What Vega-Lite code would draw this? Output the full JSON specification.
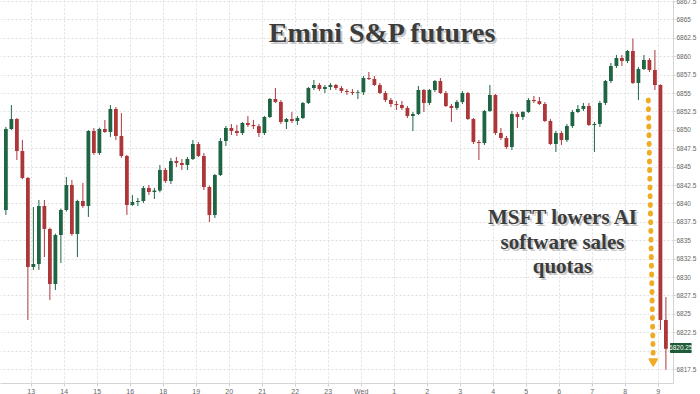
{
  "$schema": "https://vega.github.io/schema/vega-lite/v6.json",
  "width": 673,
  "height": 383,
  "autosize": {"type": "none"},
  "padding": {"left": 0, "top": 0, "right": 27, "bottom": 11},
  "background": "white",
  "config": {
    "view": {"stroke": null},
    "axis": {"title": null}
  },
  "datasets": {
    "candles": [
      {"t":-45,"o":6839.11,"h":6850.4,"l":6838.43,"c":6850.11},
      {"t":-35,"o":6850.11,"h":6853.37,"l":6849.98,"c":6851.47},
      {"t":-25,"o":6851.47,"h":6851.6,"l":6845.9,"c":6847.12},
      {"t":-15,"o":6847.12,"h":6848.62,"l":6843.3,"c":6843.46},
      {"t":-5,"o":6843.46,"h":6843.6,"l":6824.16,"c":6831.36},
      {"t":5,"o":6831.36,"h":6839.51,"l":6830.96,"c":6831.77},
      {"t":15,"o":6831.77,"h":6840.47,"l":6830.96,"c":6839.65},
      {"t":25,"o":6839.65,"h":6840.47,"l":6832.72,"c":6836.53},
      {"t":35,"o":6836.53,"h":6836.7,"l":6826.88,"c":6829.05},
      {"t":45,"o":6829.05,"h":6835.9,"l":6828.24,"c":6835.71},
      {"t":55,"o":6835.71,"h":6839.3,"l":6831.91,"c":6839.11},
      {"t":65,"o":6839.11,"h":6843.6,"l":6838.9,"c":6842.5},
      {"t":75,"o":6842.5,"h":6843.19,"l":6835.6,"c":6835.85},
      {"t":85,"o":6835.85,"h":6840.5,"l":6832.72,"c":6840.33},
      {"t":95,"o":6840.33,"h":6842.78,"l":6839.4,"c":6839.65},
      {"t":105,"o":6839.65,"h":6849.98,"l":6838.16,"c":6849.84},
      {"t":115,"o":6849.84,"h":6850.25,"l":6846.6,"c":6846.85},
      {"t":125,"o":6846.85,"h":6850.3,"l":6846.58,"c":6850.11},
      {"t":135,"o":6850.11,"h":6851.34,"l":6849.57,"c":6849.71},
      {"t":145,"o":6849.71,"h":6853.37,"l":6849.03,"c":6852.83},
      {"t":155,"o":6852.83,"h":6853.1,"l":6848.62,"c":6849.16},
      {"t":165,"o":6849.16,"h":6852.29,"l":6846.2,"c":6846.44},
      {"t":175,"o":6846.44,"h":6846.6,"l":6838.43,"c":6839.79},
      {"t":185,"o":6839.79,"h":6841.15,"l":6839.65,"c":6840.19},
      {"t":195,"o":6840.19,"h":6840.74,"l":6839.65,"c":6840.33},
      {"t":205,"o":6840.33,"h":6842.37,"l":6840.06,"c":6842.1},
      {"t":215,"o":6842.1,"h":6842.5,"l":6841.15,"c":6841.55},
      {"t":225,"o":6841.55,"h":6842.1,"l":6840.6,"c":6841.75},
      {"t":235,"o":6841.75,"h":6845.22,"l":6841.5,"c":6844.54},
      {"t":245,"o":6844.54,"h":6844.81,"l":6842.78,"c":6843.05},
      {"t":255,"o":6843.05,"h":6846.17,"l":6842.64,"c":6845.76},
      {"t":265,"o":6845.76,"h":6846.31,"l":6844.95,"c":6845.49},
      {"t":275,"o":6845.49,"h":6846.04,"l":6844.54,"c":6845.22},
      {"t":285,"o":6845.22,"h":6846.31,"l":6844.54,"c":6846.04},
      {"t":295,"o":6846.04,"h":6848.62,"l":6845.9,"c":6848.07},
      {"t":305,"o":6848.07,"h":6848.35,"l":6846.31,"c":6846.44},
      {"t":315,"o":6846.44,"h":6846.85,"l":6841.82,"c":6842.23},
      {"t":325,"o":6842.23,"h":6842.4,"l":6837.48,"c":6838.43},
      {"t":335,"o":6838.43,"h":6844.0,"l":6838.02,"c":6843.86},
      {"t":345,"o":6843.86,"h":6848.89,"l":6843.73,"c":6848.48},
      {"t":355,"o":6848.48,"h":6850.52,"l":6847.8,"c":6850.25},
      {"t":365,"o":6850.25,"h":6850.79,"l":6849.3,"c":6849.84},
      {"t":375,"o":6849.84,"h":6850.66,"l":6849.16,"c":6849.57},
      {"t":385,"o":6849.57,"h":6851.06,"l":6849.3,"c":6850.93},
      {"t":395,"o":6850.93,"h":6851.88,"l":6850.38,"c":6850.66},
      {"t":405,"o":6850.66,"h":6851.34,"l":6850.11,"c":6850.5},
      {"t":415,"o":6850.5,"h":6850.79,"l":6849.03,"c":6849.57},
      {"t":425,"o":6849.57,"h":6851.88,"l":6849.3,"c":6851.74},
      {"t":435,"o":6851.74,"h":6854.32,"l":6851.61,"c":6854.19},
      {"t":445,"o":6854.19,"h":6855.68,"l":6853.65,"c":6853.78},
      {"t":455,"o":6853.78,"h":6854.05,"l":6850.79,"c":6851.06},
      {"t":465,"o":6851.06,"h":6851.61,"l":6850.11,"c":6851.47},
      {"t":475,"o":6851.47,"h":6852.42,"l":6850.93,"c":6851.2},
      {"t":485,"o":6851.2,"h":6851.88,"l":6850.66,"c":6851.61},
      {"t":495,"o":6851.61,"h":6853.78,"l":6851.47,"c":6853.65},
      {"t":505,"o":6853.65,"h":6855.82,"l":6853.51,"c":6855.68},
      {"t":515,"o":6855.68,"h":6856.77,"l":6855.41,"c":6856.09},
      {"t":525,"o":6856.09,"h":6856.36,"l":6855.28,"c":6855.55},
      {"t":535,"o":6855.55,"h":6856.09,"l":6855.0,"c":6855.82},
      {"t":545,"o":6855.82,"h":6856.36,"l":6855.41,"c":6856.09},
      {"t":555,"o":6856.09,"h":6856.23,"l":6855.41,"c":6855.68},
      {"t":565,"o":6855.68,"h":6855.96,"l":6855.0,"c":6855.28},
      {"t":575,"o":6855.28,"h":6855.55,"l":6854.73,"c":6855.14},
      {"t":585,"o":6855.14,"h":6855.55,"l":6854.73,"c":6855.0},
      {"t":595,"o":6855.0,"h":6855.41,"l":6854.19,"c":6855.1},
      {"t":605,"o":6855.1,"h":6857.31,"l":6854.73,"c":6857.04},
      {"t":615,"o":6857.04,"h":6857.86,"l":6856.77,"c":6856.9},
      {"t":625,"o":6856.9,"h":6857.31,"l":6855.96,"c":6856.09},
      {"t":635,"o":6856.09,"h":6856.36,"l":6854.87,"c":6855.0},
      {"t":645,"o":6855.0,"h":6855.28,"l":6853.78,"c":6854.05},
      {"t":655,"o":6854.05,"h":6854.32,"l":6853.1,"c":6853.51},
      {"t":665,"o":6853.51,"h":6853.92,"l":6852.69,"c":6853.37},
      {"t":675,"o":6853.37,"h":6853.92,"l":6852.69,"c":6852.97},
      {"t":685,"o":6852.97,"h":6853.24,"l":6851.61,"c":6851.88},
      {"t":695,"o":6851.88,"h":6852.42,"l":6849.84,"c":6852.15},
      {"t":705,"o":6852.15,"h":6855.96,"l":6852.01,"c":6855.41},
      {"t":715,"o":6855.41,"h":6855.55,"l":6852.42,"c":6853.65},
      {"t":725,"o":6853.65,"h":6855.55,"l":6853.37,"c":6855.41},
      {"t":735,"o":6855.41,"h":6856.77,"l":6855.14,"c":6856.63},
      {"t":745,"o":6856.63,"h":6857.04,"l":6854.87,"c":6855.0},
      {"t":755,"o":6855.0,"h":6855.28,"l":6853.1,"c":6853.24},
      {"t":765,"o":6853.24,"h":6853.51,"l":6851.06,"c":6852.97},
      {"t":775,"o":6852.97,"h":6854.05,"l":6852.69,"c":6853.78},
      {"t":785,"o":6853.78,"h":6855.28,"l":6853.51,"c":6855.0},
      {"t":795,"o":6855.0,"h":6855.14,"l":6851.34,"c":6851.47},
      {"t":805,"o":6851.47,"h":6851.61,"l":6848.07,"c":6848.35},
      {"t":815,"o":6848.35,"h":6848.62,"l":6845.9,"c":6848.21},
      {"t":825,"o":6848.21,"h":6852.69,"l":6847.94,"c":6852.56},
      {"t":835,"o":6852.56,"h":6856.09,"l":6852.42,"c":6854.73},
      {"t":845,"o":6854.73,"h":6854.87,"l":6849.3,"c":6849.57},
      {"t":855,"o":6849.57,"h":6850.25,"l":6848.62,"c":6848.89},
      {"t":865,"o":6848.89,"h":6849.16,"l":6847.4,"c":6847.67},
      {"t":875,"o":6847.67,"h":6852.56,"l":6847.26,"c":6852.15},
      {"t":885,"o":6852.15,"h":6852.42,"l":6850.25,"c":6851.74},
      {"t":895,"o":6851.74,"h":6852.56,"l":6851.34,"c":6852.42},
      {"t":905,"o":6852.42,"h":6854.32,"l":6852.29,"c":6854.05},
      {"t":915,"o":6854.05,"h":6854.6,"l":6853.65,"c":6853.9},
      {"t":925,"o":6853.9,"h":6854.46,"l":6853.37,"c":6853.51},
      {"t":935,"o":6853.51,"h":6853.78,"l":6851.06,"c":6851.2},
      {"t":945,"o":6851.2,"h":6851.47,"l":6847.94,"c":6848.07},
      {"t":955,"o":6848.07,"h":6849.84,"l":6846.99,"c":6849.57},
      {"t":965,"o":6849.57,"h":6849.84,"l":6847.94,"c":6848.62},
      {"t":975,"o":6848.62,"h":6850.79,"l":6848.35,"c":6850.52},
      {"t":985,"o":6850.52,"h":6852.69,"l":6850.25,"c":6852.42},
      {"t":995,"o":6852.42,"h":6853.37,"l":6852.29,"c":6852.83},
      {"t":1005,"o":6852.83,"h":6853.65,"l":6852.56,"c":6853.24},
      {"t":1015,"o":6853.24,"h":6853.65,"l":6850.52,"c":6850.66},
      {"t":1025,"o":6850.66,"h":6851.06,"l":6846.99,"c":6850.8},
      {"t":1035,"o":6850.8,"h":6853.92,"l":6850.38,"c":6853.65},
      {"t":1045,"o":6853.65,"h":6856.77,"l":6853.37,"c":6856.63},
      {"t":1055,"o":6856.63,"h":6859.08,"l":6856.36,"c":6858.67},
      {"t":1065,"o":6858.67,"h":6860.17,"l":6858.4,"c":6859.76},
      {"t":1075,"o":6859.76,"h":6860.17,"l":6858.67,"c":6859.35},
      {"t":1085,"o":6859.35,"h":6860.85,"l":6859.08,"c":6860.71},
      {"t":1095,"o":6860.71,"h":6862.4,"l":6856.23,"c":6856.36},
      {"t":1105,"o":6856.36,"h":6858.54,"l":6854.05,"c":6858.26},
      {"t":1115,"o":6858.26,"h":6860.17,"l":6858.13,"c":6859.49},
      {"t":1125,"o":6859.49,"h":6859.76,"l":6857.86,"c":6858.13},
      {"t":1135,"o":6858.13,"h":6860.85,"l":6855.41,"c":6856.09},
      {"t":1145,"o":6856.09,"h":6856.2,"l":6822.8,"c":6824.16},
      {"t":1155,"o":6824.16,"h":6827.29,"l":6817.4,"c":6820.25}
    ]
  },
  "layer": [
    {
      "data": {"name": "candles"},
      "mark": {"type": "rule", "strokeWidth": 1},
      "encoding": {
        "x": {
          "field": "t", "type": "quantitative",
          "scale": {"domain": [-46.6, 1158.8], "nice": false, "zero": false},
          "axis": {
            "title": null,
            "values": [0,60,120,180,240,300,360,420,480,540,600,660,720,780,840,900,960,1020,1080,1140],
            "tickCount": 100,
            "labelExpr": "['13','14','15','16','18','19','20','21','22','23','Wed','1','2','3','4','5','6','7','8','9'][round(datum.value/60)]",
            "grid": true, "gridColor": "#e0e0e0", "gridDash": [2, 2],
            "domainColor": "#d4d4d4", "tickColor": "#d0d0d0", "tickSize": 3,
            "labelFont": "Liberation Sans", "labelFontSize": 7, "labelColor": "#666666",
            "labelPadding": 1, "labelFlush": false, "labelOverlap": false
          }
        },
        "y": {
          "field": "l", "type": "quantitative",
          "scale": {"domain": [6815.6, 6867.64], "nice": false, "zero": false},
          "axis": {
            "title": null, "orient": "right",
            "values": [6817.5,6820,6822.5,6825,6827.5,6830,6832.5,6835,6837.5,6840,6842.5,6845,6847.5,6850,6852.5,6855,6857.5,6860,6862.5,6865,6867.5],
            "tickCount": 100,
            "labelExpr": "'' + datum.value",
            "grid": true, "gridColor": "#e0e0e0", "gridDash": [2, 2],
            "domainColor": "#d4d4d4", "tickColor": "#d0d0d0", "tickSize": 2,
            "labelFont": "Liberation Sans", "labelFontSize": 6.5, "labelColor": "#666666",
            "labelPadding": 1, "labelFlush": false, "labelOverlap": false
          }
        },
        "y2": {"field": "h"},
        "color": {"condition": {"test": "datum.c >= datum.o", "value": "#1f6443"}, "value": "#ad3638"}
      }
    },
    {
      "data": {"name": "candles"},
      "mark": {"type": "bar", "size": 3.8},
      "encoding": {
        "x": {"field": "t", "type": "quantitative"},
        "y": {"field": "o", "type": "quantitative"},
        "y2": {"field": "c"},
        "color": {"condition": {"test": "datum.c >= datum.o", "value": "#1f6443"}, "value": "#ad3638"}
      }
    },
    {
      "mark": {"type": "rule", "color": "#c4c4c4", "strokeDash": [3, 2], "strokeWidth": 1},
      "encoding": {"x": {"datum": 240, "type": "quantitative"}}
    },
    {
      "data": {"values": [{"t": 1123, "p": 6854.05, "t2": 1131.9, "p2": 6818.9}]},
      "mark": {"type": "rule", "color": "#f0ab24", "strokeWidth": 5, "strokeCap": "round", "strokeDash": [1, 7.7]},
      "encoding": {
        "x": {"field": "t", "type": "quantitative"},
        "y": {"field": "p", "type": "quantitative"},
        "x2": {"field": "t2"},
        "y2": {"field": "p2"}
      }
    },
    {
      "data": {"values": [{"t": 1132, "p": 6818.4}]},
      "mark": {"type": "point", "shape": "triangle-down", "filled": true, "size": 55, "color": "#f0ab24", "stroke": "#f0ab24", "strokeWidth": 2, "strokeJoin": "round", "opacity": 1},
      "encoding": {
        "x": {"field": "t", "type": "quantitative"},
        "y": {"field": "p", "type": "quantitative"}
      }
    },
    {
      "data": {"values": [{"t": 639, "p": 6861.93, "label": "Emini S&P futures"}]},
      "mark": {"type": "text", "font": "Liberation Serif", "fontWeight": "bold", "fontSize": 28, "align": "center", "baseline": "alphabetic", "color": "#9a9a9a", "opacity": 0.55, "dx": 2, "dy": 2},
      "encoding": {
        "x": {"field": "t", "type": "quantitative"},
        "y": {"field": "p", "type": "quantitative"},
        "text": {"field": "label"}
      }
    },
    {
      "data": {"values": [{"t": 639, "p": 6861.93, "label": "Emini S&P futures"}]},
      "mark": {"type": "text", "font": "Liberation Serif", "fontWeight": "bold", "fontSize": 28, "align": "center", "baseline": "alphabetic", "color": "#3c3c3c"},
      "encoding": {
        "x": {"field": "t", "type": "quantitative"},
        "y": {"field": "p", "type": "quantitative"},
        "text": {"field": "label"}
      }
    },
    {
      "data": {"values": [{"t": 967, "p": 6837.2, "label": "MSFT lowers AI\nsoftware sales\nquotas"}]},
      "mark": {"type": "text", "font": "Liberation Serif", "fontWeight": "bold", "fontSize": 21, "align": "center", "baseline": "alphabetic", "lineBreak": "\n", "lineHeight": 24.5, "color": "#9a9a9a", "opacity": 0.55, "dx": 2, "dy": 2},
      "encoding": {
        "x": {"field": "t", "type": "quantitative"},
        "y": {"field": "p", "type": "quantitative"},
        "text": {"field": "label"}
      }
    },
    {
      "data": {"values": [{"t": 967, "p": 6837.2, "label": "MSFT lowers AI\nsoftware sales\nquotas"}]},
      "mark": {"type": "text", "font": "Liberation Serif", "fontWeight": "bold", "fontSize": 21, "align": "center", "baseline": "alphabetic", "lineBreak": "\n", "lineHeight": 24.5, "color": "#3c3c3c"},
      "encoding": {
        "x": {"field": "t", "type": "quantitative"},
        "y": {"field": "p", "type": "quantitative"},
        "text": {"field": "label"}
      }
    },
    {
      "data": {"values": [{"t": 1162.4, "t2": 1201.8, "p": 6821.04, "p2": 6819.68}]},
      "mark": {"type": "rect", "color": "#1d5a36", "cornerRadius": 1},
      "encoding": {
        "x": {"field": "t", "type": "quantitative"},
        "x2": {"field": "t2"},
        "y": {"field": "p", "type": "quantitative"},
        "y2": {"field": "p2"}
      }
    },
    {
      "data": {"values": [{"t": 1182.1, "p": 6820.36, "label": "6820.25"}]},
      "mark": {"type": "text", "font": "Liberation Sans", "fontSize": 6.5, "align": "center", "baseline": "middle", "color": "#ffffff"},
      "encoding": {
        "x": {"field": "t", "type": "quantitative"},
        "y": {"field": "p", "type": "quantitative"},
        "text": {"field": "label"}
      }
    }
  ]
}
